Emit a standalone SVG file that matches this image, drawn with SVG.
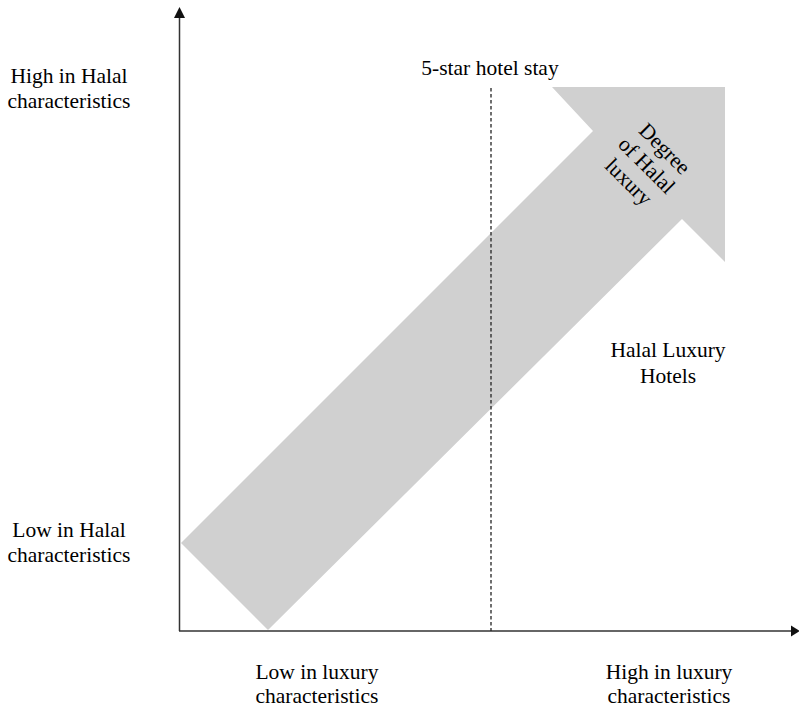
<svg xmlns="http://www.w3.org/2000/svg" width="799" height="710" viewBox="0 0 799 710">
<style>
.t{font-family:"Liberation Serif","Times New Roman",serif;font-size:21.5px;fill:#000;text-anchor:middle}
.ax{stroke:#333;stroke-width:1.5;fill:none}
</style>
<rect width="799" height="710" fill="#fff"/>
<g id="big-arrow">
<polygon points="181,543 593,131 552,87 725,87 725,262 682,219 268,630" fill="#d0d0d0"/>
<g transform="translate(647,165) rotate(45)">
<text class="t" x="1" y="-17">Degree</text>
<text class="t" x="0" y="7.5">of Halal</text>
<text class="t" x="-1" y="32">luxury</text>
</g>
</g>
<g id="connectors">
<line class="ax" x1="179.5" y1="16" x2="179.5" y2="631"/>
<polygon points="179.5,7 174,18 185,18" fill="#111"/>
<line class="ax" x1="179" y1="631" x2="792" y2="631"/>
<polygon points="800,631 791,625.5 791,636.5" fill="#111"/>
<line x1="491" y1="88" x2="491" y2="631" stroke="#222" stroke-width="1.3" stroke-dasharray="3.5,2.5"/>
</g>
<g id="label-high-halal">
<text class="t" x="69" y="83">High in Halal</text>
<text class="t" x="69" y="108">characteristics</text>
</g>
<g id="label-low-halal">
<text class="t" x="69" y="537">Low in Halal</text>
<text class="t" x="69" y="562">characteristics</text>
</g>
<g id="label-5star">
<text class="t" x="490" y="75">5-star hotel stay</text>
</g>
<g id="label-low-luxury">
<text class="t" x="317" y="679">Low in luxury</text>
<text class="t" x="317" y="703">characteristics</text>
</g>
<g id="label-high-luxury">
<text class="t" x="669" y="679">High in luxury</text>
<text class="t" x="669" y="703">characteristics</text>
</g>
<g id="label-hotels">
<text class="t" x="668" y="357">Halal Luxury</text>
<text class="t" x="668" y="383">Hotels</text>
</g>
</svg>
